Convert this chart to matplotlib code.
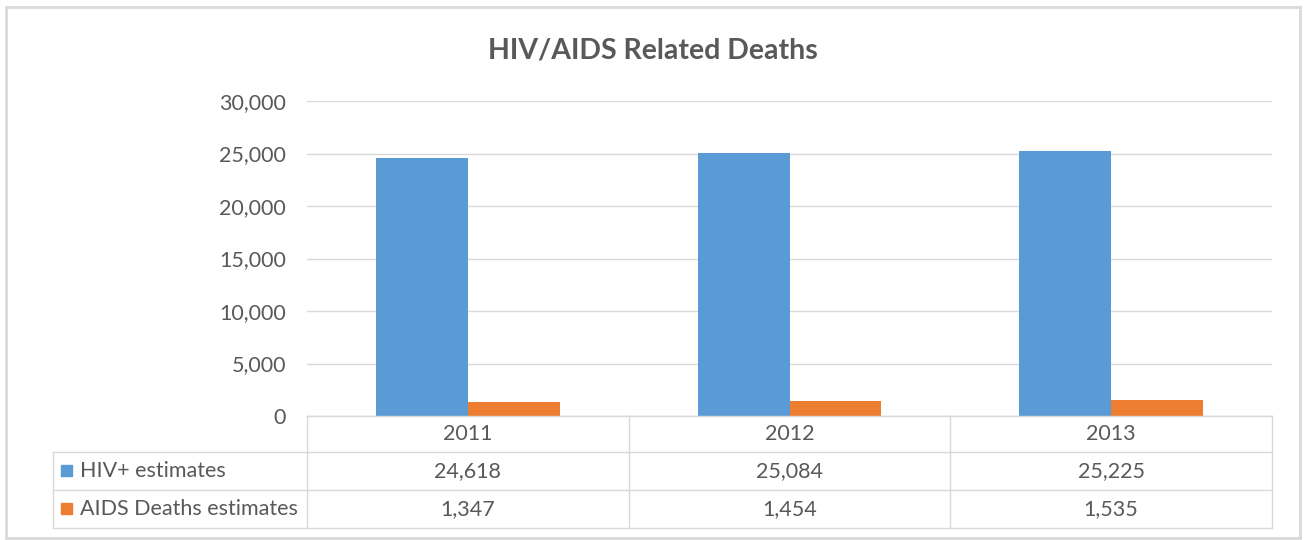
import matplotlib.pyplot as plt
from matplotlib.patches import Rectangle
import numpy as np

# Chart data
TITLE = "HIV/AIDS Related Deaths"
years = ["2011", "2012", "2013"]
series_names = ["HIV+ estimates", "AIDS Deaths estimates"]
hiv_estimates = [24618, 25084, 25225]
aids_deaths = [1347, 1454, 1535]

# Styling
BLUE = "#5B9BD5"
ORANGE = "#ED7D31"
TEXT = "#595959"
GRID = "#D9D9D9"
FONT = "Lato"
FS = 15.5

W, H = 1306, 540
plt.rcParams["font.family"] = [FONT, "DejaVu Sans"]

fig = plt.figure(figsize=(W / 100, H / 100), dpi=100)


def fx(px):
    return px / W


def fy(py):
    return 1 - py / H


# Outer chart frame
fig.patches.append(Rectangle((fx(6), fy(538)), fx(1300) - fx(6), fy(7) - fy(538),
                             transform=fig.transFigure, fill=False,
                             edgecolor=GRID, linewidth=2))

# Plot area
left, right, top, bottom = 307, 1272, 101, 416
ax = fig.add_axes([fx(left), fy(bottom), fx(right) - fx(left), fy(top) - fy(bottom)])

x = np.arange(len(years))
bw = 0.285
ax.bar(x - bw / 2, hiv_estimates, bw, color=BLUE, zorder=3)
ax.bar(x + bw / 2, aids_deaths, bw, color=ORANGE, zorder=3)

ax.set_xlim(-0.5, len(years) - 0.5)
ax.set_ylim(0, 30000)
ax.set_yticks(np.arange(0, 30001, 5000))
ax.set_yticklabels([f"{v:,}" for v in range(0, 30001, 5000)])
ax.set_xticks([])
ax.tick_params(axis="y", length=0, pad=15, labelsize=FS, labelcolor=TEXT)
ax.grid(axis="y", color=GRID, linewidth=1, zorder=0)
for s in ["top", "right", "left"]:
    ax.spines[s].set_visible(False)
ax.spines["bottom"].set_color(GRID)

fig.text(fx(653), fy(50), TITLE, ha="center", va="center", fontsize=20.5,
         fontweight="bold", color=TEXT)

# Data table below the plot area
col_edges = np.linspace(left, right, len(years) + 1)
row_edges = [416, 452, 490, 528]
table_left = 53


def hline(py, x0, x1):
    fig.add_artist(plt.Line2D([fx(x0), fx(x1)], [fy(py), fy(py)], color=GRID, lw=1))


def vline(px, y0, y1):
    fig.add_artist(plt.Line2D([fx(px), fx(px)], [fy(y0), fy(y1)], color=GRID, lw=1))


hline(row_edges[0], left, right)
for py in row_edges[1:]:
    hline(py, table_left, right)
for px in col_edges:
    vline(px, row_edges[0], row_edges[-1])
vline(table_left, row_edges[1], row_edges[-1])

for i, year in enumerate(years):
    cx = (col_edges[i] + col_edges[i + 1]) / 2
    cy = (row_edges[0] + row_edges[1]) / 2
    fig.text(fx(cx), fy(cy), year, ha="center", va="center", fontsize=FS, color=TEXT)

for r, (name, vals, color) in enumerate(zip(series_names, [hiv_estimates, aids_deaths], [BLUE, ORANGE])):
    cy = (row_edges[r + 1] + row_edges[r + 2]) / 2
    fig.patches.append(Rectangle((fx(61), fy(cy + 5)), fx(11), fy(0) - fy(11),
                                 transform=fig.transFigure, color=color))
    fig.text(fx(80), fy(cy), name, ha="left", va="center", fontsize=FS, color=TEXT)
    for i, v in enumerate(vals):
        cx = (col_edges[i] + col_edges[i + 1]) / 2
        fig.text(fx(cx), fy(cy), f"{v:,}", ha="center", va="center", fontsize=FS, color=TEXT)

fig.savefig("out.png", dpi=100, facecolor="white")
